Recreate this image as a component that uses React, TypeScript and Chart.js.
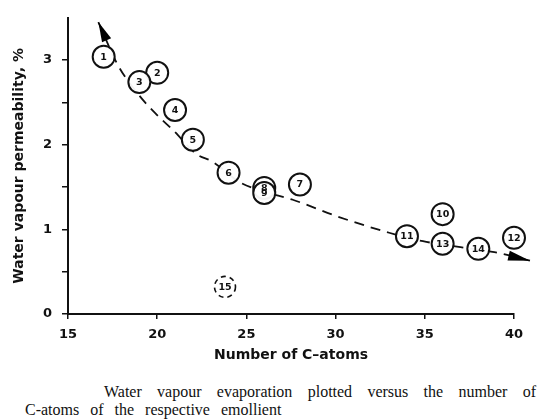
import React, { useEffect, useRef } from "react";
import { Chart, registerables } from "chart.js";

Chart.register(...registerables);

// Emollient points: number of C-atoms vs water vapour permeability (%)
const pointLabels = ["1", "2", "3", "4", "5", "6", "7", "8", "9", "10", "11", "12", "13", "14"];
const cAtoms = [17, 20, 19, 21, 22, 24, 28, 26, 26, 36, 34, 40, 36, 38];
const permeability = [3.04, 2.85, 2.74, 2.41, 2.06, 1.67, 1.53, 1.49, 1.43, 1.18, 0.92, 0.9, 0.83, 0.77];

// Outlier (dashed circle)
const outlierLabel = "15";
const outlierX = [23.8];
const outlierY = [0.32];

// Fitted dashed trend curve
const fitX = [16.7, 17.8, 19.0, 20.0, 20.9, 22.2, 23.1, 24.6, 25.9, 27.6, 30.0, 33.0, 34.9, 37.0, 38.9, 40.9];
const fitY = [3.45, 2.94, 2.58, 2.35, 2.17, 1.89, 1.8, 1.56, 1.45, 1.35, 1.16, 0.96, 0.86, 0.79, 0.73, 0.63];

const xTicks = [15, 20, 25, 30, 35, 40];
const yTickLabels = ["0", "1", "2", "3"];

const AXIS_FONT = "'DejaVu Sans', sans-serif";

const annotatePlugin = {
  id: "annotate",
  afterDatasetsDraw(chart: any) {
    const ctx = chart.ctx;
    const xs = chart.scales.x;
    const ys = chart.scales.y;
    ctx.save();
    // arrowheads on fitted curve
    const arrow = (tipI: number, fromI: number, len: number, half: number) => {
      const tx = xs.getPixelForValue(fitX[tipI]);
      const ty = ys.getPixelForValue(fitY[tipI]);
      const fx = xs.getPixelForValue(fitX[fromI]);
      const fy = ys.getPixelForValue(fitY[fromI]);
      const a = Math.atan2(ty - fy, tx - fx);
      const bx = tx - Math.cos(a) * len;
      const by = ty - Math.sin(a) * len;
      ctx.beginPath();
      ctx.moveTo(tx, ty);
      ctx.lineTo(bx + Math.sin(a) * half, by - Math.cos(a) * half);
      ctx.lineTo(bx - Math.sin(a) * half, by + Math.cos(a) * half);
      ctx.closePath();
      ctx.fillStyle = "#000";
      ctx.fill();
    };
    arrow(0, 1, 20, 5);
    arrow(fitX.length - 1, fitX.length - 2, 22, 5);

    // point labels
    ctx.fillStyle = "#111";
    ctx.textAlign = "center";
    ctx.textBaseline = "middle";
    ctx.font = "bold 9.5px " + AXIS_FONT;
    const meta = chart.getDatasetMeta(1);
    meta.data.forEach((el: any, i: number) => {
      ctx.fillText(pointLabels[i], el.x, el.y + 0.5);
    });
    // outlier with dashed circle
    const ox = xs.getPixelForValue(outlierX[0]);
    const oy = ys.getPixelForValue(outlierY[0]);
    ctx.beginPath();
    ctx.setLineDash([5, 4]);
    ctx.lineWidth = 1.6;
    ctx.strokeStyle = "#111";
    ctx.arc(ox, oy, 10.5, 0, Math.PI * 2);
    ctx.stroke();
    ctx.setLineDash([]);
    ctx.fillText(outlierLabel, ox, oy + 0.5);
    ctx.restore();
  },
};

export default function App() {
  const ref = useRef<HTMLCanvasElement | null>(null);
  useEffect(() => {
    document.body.style.margin = "0";
    const canvas = ref.current;
    if (!canvas) return;
    const chart = new Chart(canvas, {
      type: "scatter",
      data: {
        datasets: [
          {
            label: "fit",
            data: fitX.map((x, i) => ({ x, y: fitY[i] })),
            showLine: true,
            borderColor: "#111",
            borderWidth: 1.8,
            borderDash: [10, 7],
            pointRadius: 0,
            cubicInterpolationMode: "monotone",
            clip: false,
            order: 2,
          } as any,
          {
            label: "emollients",
            data: cAtoms.map((x, i) => ({ x, y: permeability[i] })),
            pointRadius: 11,
            pointHoverRadius: 11,
            pointBackgroundColor: "rgba(255,255,255,0.95)",
            pointBorderColor: "#111",
            pointBorderWidth: 2,
            clip: false,
            order: 1,
          } as any,
        ],
      },
      options: {
        animation: false,
        responsive: false,
        events: [],
        layout: { padding: { top: 14, right: 24, left: 0, bottom: 0 } },
        plugins: { legend: { display: false }, tooltip: { enabled: false } },
        scales: {
          x: {
            type: "linear",
            min: 15,
            max: 40,
            afterFit: (s: any) => {
              s.height = 56;
            },
            afterBuildTicks: (s: any) => {
              s.ticks = xTicks.map((v) => ({ value: v }));
            },
            ticks: {
              color: "#111",
              font: { family: AXIS_FONT, size: 13, weight: "bold" },
              padding: 8,
              maxRotation: 0,
            },
            grid: { drawOnChartArea: false, drawTicks: true, tickLength: 5, color: "#111", lineWidth: 1.5 },
            border: { display: true, color: "#111", width: 2 },
            title: {
              display: true,
              text: "Number of C\u2013atoms",
              color: "#111",
              font: { family: AXIS_FONT, size: 14, weight: "bold" },
              padding: { top: 0, bottom: 6 },
            },
          },
          y: {
            type: "linear",
            min: 0,
            max: 3.5,
            afterFit: (s: any) => {
              s.width = 68;
            },
            ticks: {
              stepSize: 0.5,
              color: "#111",
              font: { family: AXIS_FONT, size: 13, weight: "bold" },
              padding: 10,
              callback: (v: any) => {
                const n = Number(v);
                return Number.isInteger(n) && n < yTickLabels.length ? yTickLabels[n] : "";
              },
            },
            grid: {
              drawOnChartArea: false,
              drawTicks: true,
              tickLength: 6,
              lineWidth: 1.5,
              color: (c: any) => (c.tick && c.tick.value >= 3.5 ? "rgba(0,0,0,0)" : "#111"),
            },
            border: { display: true, color: "#111", width: 2 },
            title: {
              display: true,
              text: "Water vapour permeability, %",
              color: "#111",
              font: { family: AXIS_FONT, size: 14, weight: "bold" },
              padding: { top: 11, bottom: 0 },
            },
          },
        },
      },
      plugins: [annotatePlugin],
    } as any);
    return () => chart.destroy();
  }, []);

  const capFont: React.CSSProperties = {
    position: "absolute",
    fontFamily: "'Liberation Serif', 'Times New Roman', serif",
    fontSize: 16,
    lineHeight: "19px",
    color: "#111",
    whiteSpace: "nowrap",
  };

  return (
    <div style={{ position: "relative", width: 538, height: 419, background: "#fff" }}>
      <canvas ref={ref} width={538} height={370} style={{ display: "block" }} />
      <div
        style={{
          ...capFont,
          left: 104,
          top: 382,
          width: 432,
          textAlign: "justify",
          textAlignLast: "justify",
          whiteSpace: "normal",
        }}
      >
        Water vapour evaporation plotted versus the number of
      </div>
      <div style={{ ...capFont, left: 25, top: 400, wordSpacing: 7 }}>
        C-atoms of the respective emollient
      </div>
    </div>
  );
}
